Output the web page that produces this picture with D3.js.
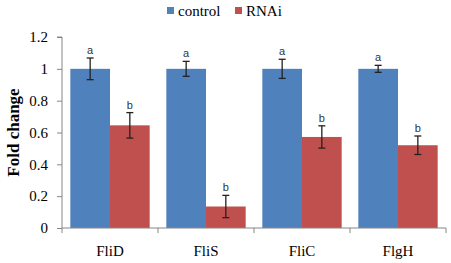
<!DOCTYPE html>
<html><head><meta charset="utf-8">
<script src="https://cdn.jsdelivr.net/npm/d3@7"></script>
<style>body{margin:0;background:#fff}svg{display:block}</style>
</head><body>
<script>
const categories = ["FliD", "FliS", "FliC", "FlgH"];
const seriesNames = ["control", "RNAi"];
const controlValues = [1, 1, 1, 1];
const controlErrors = [0.068, 0.047, 0.06, 0.022];
const controlLetters = ["a", "a", "a", "a"];
const rnaiValues = [0.645, 0.135, 0.572, 0.52];
const rnaiErrors = [0.08, 0.07, 0.07, 0.058];
const rnaiLetters = ["b", "b", "b", "b"];
const yTicks = [0, 0.2, 0.4, 0.6, 0.8, 1, 1.2];
const colors = ["#4F81BD", "#C0504D"];

(function () {
const W = 451, H = 263;
const svg = d3.select("body").append("svg").attr("width", W).attr("height", H);
const mLeft = 62, mRight = 446, mTop = 37, mBottom = 228;

const x = d3.scaleBand().domain(categories).range([mLeft, mRight]).paddingInner(0).paddingOuter(0);
const y = d3.scaleLinear().domain([0, 1.2]).range([mBottom, mTop]);
const xs = d3.scaleBand().domain(seriesNames).range([0, x.bandwidth()]).paddingInner(0).paddingOuter(0.21);

const series = [
  {name: "control", values: controlValues, errs: controlErrors, letters: controlLetters},
  {name: "RNAi", values: rnaiValues, errs: rnaiErrors, letters: rnaiLetters}
];

const axisColor = "#868686";
const serif = "Liberation Serif, serif";

// Y axis
const yAxis = svg.append("g").attr("transform", `translate(${mLeft},0)`)
  .attr("font-family", serif)
  .call(d3.axisLeft(y).tickValues(yTicks).tickSize(5).tickPadding(9).tickFormat(d => d3.format("")(d)));
yAxis.attr("font-family", serif).attr("font-size", 15);
yAxis.selectAll("path, line").attr("stroke", axisColor);
yAxis.select(".domain").attr("d", `M-5,${mTop}H0V${mBottom}`);
yAxis.selectAll("text").attr("font-family", serif).attr("font-size", 15).attr("fill", "#000");

// Bars
series.forEach((s, si) => {
  const g = svg.append("g");
  g.selectAll("rect").data(categories).join("rect")
    .attr("x", (c) => x(c) + xs(s.name))
    .attr("y", (c, i) => y(s.values[i]))
    .attr("width", xs.bandwidth())
    .attr("height", (c, i) => y(0) - y(s.values[i]))
    .attr("fill", colors[si]);
  categories.forEach((c, i) => {
    const cx = x(c) + xs(s.name) + xs.bandwidth() / 2;
    const y1 = y(s.values[i] + s.errs[i]), y2 = y(s.values[i] - s.errs[i]);
    g.append("line").attr("x1", cx).attr("x2", cx).attr("y1", y1).attr("y2", y2).attr("stroke", "#222").attr("stroke-width", 1.3);
    g.append("line").attr("x1", cx - 3.5).attr("x2", cx + 3.5).attr("y1", y1).attr("y2", y1).attr("stroke", "#222").attr("stroke-width", 1.3);
    g.append("line").attr("x1", cx - 3.5).attr("x2", cx + 3.5).attr("y1", y2).attr("y2", y2).attr("stroke", "#222").attr("stroke-width", 1.3);
    g.append("text").attr("x", cx).attr("y", y1 - 4).attr("text-anchor", "middle")
      .attr("font-family", "Liberation Sans, sans-serif").attr("font-size", 11).attr("fill", "#333")
      .text(s.letters[i]);
  });
});

// X axis
const xAxisG = svg.append("g").attr("transform", `translate(0,${mBottom})`);
xAxisG.append("line").attr("x1", mLeft).attr("x2", mRight).attr("y1", 0).attr("y2", 0).attr("stroke", axisColor);
const bounds = categories.map(c => x(c)).concat([mRight]);
xAxisG.selectAll("line.tick").data(bounds).join("line").attr("class", "tick")
  .attr("x1", d => d).attr("x2", d => d).attr("y1", 0).attr("y2", 5).attr("stroke", axisColor);
xAxisG.selectAll("text").data(categories).join("text")
  .attr("x", c => x(c) + x.bandwidth() / 2).attr("y", 28).attr("text-anchor", "middle")
  .attr("font-family", serif).attr("font-size", 15).attr("fill", "#000").text(c => c);

// Y label
svg.append("text").attr("transform", `translate(19,${(mTop + mBottom) / 2}) rotate(-90)`)
  .attr("text-anchor", "middle").attr("font-family", serif).attr("font-weight", "bold").attr("font-size", 17)
  .attr("fill", "#000").text("Fold change");

// Legend
const legend = svg.append("g");
const legendX = [167, 235];
seriesNames.forEach((n, i) => {
  legend.append("rect").attr("x", legendX[i]).attr("y", 7).attr("width", 7).attr("height", 7).attr("fill", colors[i]);
  legend.append("text").attr("x", legendX[i] + 11).attr("y", 16).attr("font-family", serif).attr("font-size", 15)
    .attr("fill", "#000").text(n);
});
})();
</script>
</body></html>
